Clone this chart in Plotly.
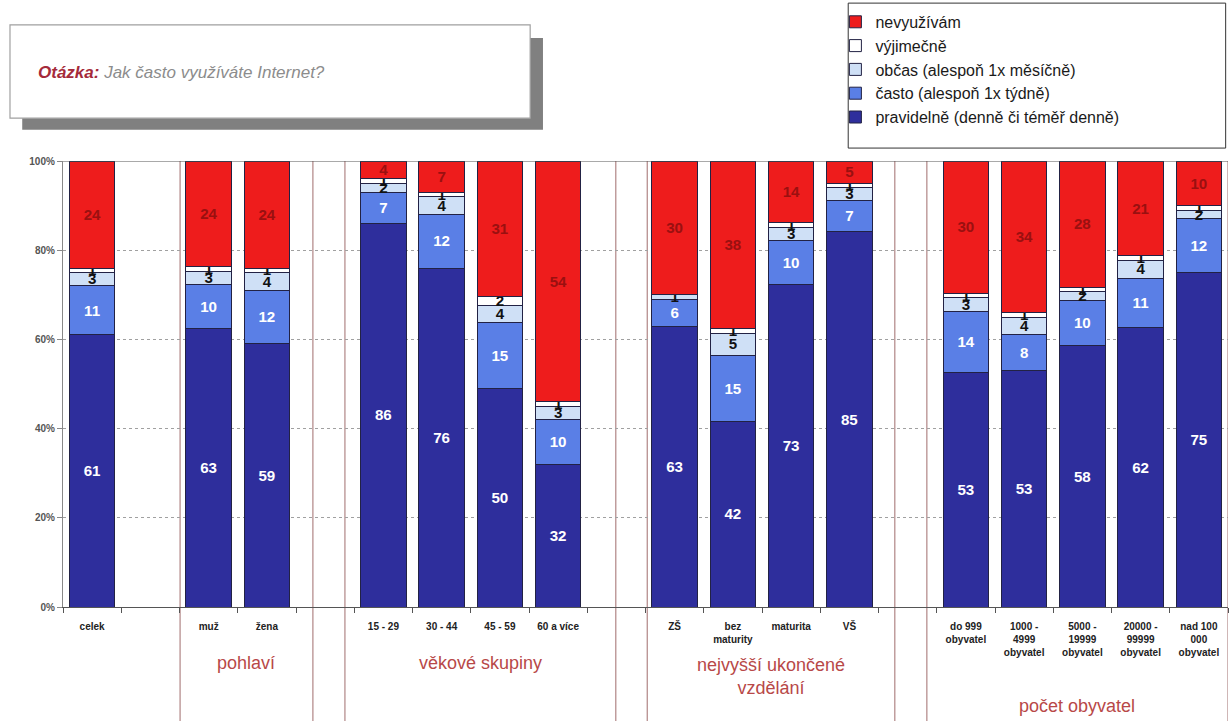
import plotly.graph_objects as go

# ---------------- data ----------------
groups = [
    ["celek"],
    ["muž", "žena"],
    ["15 - 29", "30 - 44", "45 - 59", "60 a více"],
    ["ZŠ", "bez<br>maturity", "maturita", "VŠ"],
    ["do 999<br>obyvatel", "1000 -<br>4999<br>obyvatel", "5000 -<br>19999<br>obyvatel",
     "20000 -<br>99999<br>obyvatel", "nad 100<br>000<br>obyvatel"],
]
group_titles = ["", "pohlaví", "věkové skupiny", "nejvyšší ukončené<br>vzdělání", "počet obyvatel"]

series_names = ["pravidelně (denně či téměř denně)", "často (alespoň 1x týdně)",
                "občas (alespoň 1x měsíčně)", "výjimečně", "nevyužívám"]
pravidelne = [61, 63, 59, 86, 76, 50, 32, 63, 42, 73, 85, 53, 53, 58, 62, 75]
casto      = [11, 10, 12, 7, 12, 15, 10, 6, 15, 10, 7, 14, 8, 10, 11, 12]
obcas      = [3, 3, 4, 2, 4, 4, 3, 1, 5, 3, 3, 3, 4, 2, 4, 2]
vyjimecne  = [1, 1, 1, 1, 1, 2, 1, 0, 1, 1, 1, 1, 1, 1, 1, 1]
nevyuzivam = [24, 24, 24, 4, 7, 31, 54, 30, 38, 14, 5, 30, 34, 28, 21, 10]
y_ticks = [0, 20, 40, 60, 80, 100]

# ---------------- styles ----------------
fills = ["#2e2e9c", "#5a7fe6", "#cfe0f6", "#ffffff", "#ee1c1c"]
text_colors = ["#ffffff", "#ffffff", "#111111", "#111111", "#9a1010"]
box_pad = [None, (0.49, 0.79), (0.66, 0.99), (0.47, 0.78), (0.67, 0.5)]
title_y = [None, -0.125, -0.125, -0.155, -0.222]

# positions: one blank slot between groups
xs, labels, group_pos = [], [], []
pos = 0
for g in groups:
    gp = []
    for c in g:
        xs.append(pos)
        labels.append(c)
        gp.append(pos)
        pos += 1
    group_pos.append(gp)
    pos += 1
x_max = pos - 1.5  # right edge of last slot

fig = go.Figure()
for name, vals, fc, tc in zip(series_names, [pravidelne, casto, obcas, vyjimecne, nevyuzivam],
                              fills, text_colors):
    fig.add_trace(go.Bar(
        x=xs, y=vals, name=name, width=0.78,
        marker=dict(color=fc, line=dict(color="#222244", width=1)),
        text=[str(v) for v in vals], textposition="inside", insidetextanchor="middle",
        textangle=0,
        textfont=dict(color=tc, size=16, family="Liberation Sans, Arial", weight="bold"),
        hoverinfo="skip",
    ))

shapes = []
# group boxes
for gp, pad in zip(group_pos, box_pad):
    if pad is None:
        continue
    x0 = gp[0] - pad[0]
    x1 = min(gp[-1] + pad[1], x_max)
    for xv in (x0, x1):
        shapes.append(dict(type="line", xref="x", yref="paper", x0=xv, x1=xv, y0=1, y1=-0.26,
                           line=dict(color="#b08585", width=1.2), layer="below"))
# top line at 100 %
shapes.append(dict(type="line", xref="x", yref="y", x0=-0.5, x1=x_max, y0=100, y1=100,
                   line=dict(color="#555555", width=1.2)))
# question box with shadow
shapes.append(dict(type="rect", xref="paper", yref="paper", x0=-0.035, x1=0.412, y0=1.070, y1=1.276,
                   fillcolor="#808080", line=dict(width=0)))
shapes.append(dict(type="rect", xref="paper", yref="paper", x0=-0.0455, x1=0.401, y0=1.096, y1=1.305,
                   fillcolor="#ffffff", line=dict(color="#a0a0a0", width=1.2)))
# legend frame
shapes.append(dict(type="rect", xref="paper", yref="paper", x0=0.674, x1=0.998, y0=1.029, y1=1.354,
                   fillcolor="#ffffff", line=dict(color="#333333", width=1)))

annotations = [dict(
    xref="paper", yref="paper", x=-0.023, y=1.198, xanchor="left", yanchor="middle", showarrow=False,
    text="<span style='color:#a52a3a'><b><i>Otázka:</i></b></span>"
         "<span style='color:#8c8c8c'><i> Jak často využíváte Internet?</i></span>",
    font=dict(size=17, family="Liberation Sans, Arial"))]
for gp, title, ty, pad in zip(group_pos, group_titles, title_y, box_pad):
    if not title:
        continue
    cx = ((gp[0] - pad[0]) + min(gp[-1] + pad[1], x_max)) / 2
    annotations.append(dict(xref="x", yref="paper", x=cx, y=ty, text=title, showarrow=False,
                            xanchor="center", yanchor="middle",
                            font=dict(size=18, color="#b84848", family="Liberation Sans, Arial")))

fig.update_layout(
    width=1231, height=721,
    margin=dict(l=63, r=3, t=161, b=114),
    paper_bgcolor="white", plot_bgcolor="white",
    barmode="stack", barnorm="percent",
    uniformtext=dict(minsize=15, mode="show"),
    shapes=shapes, annotations=annotations,
    showlegend=True,
    legend=dict(x=0.663, y=1.35, xanchor="left", yanchor="top", traceorder="reversed",
                bgcolor="rgba(0,0,0,0)", borderwidth=0,
                font=dict(size=16, color="#1a1a1a", family="Liberation Sans, Arial"),
                itemwidth=30),
    xaxis=dict(range=[-0.5, x_max], tickmode="array", tickvals=xs, ticktext=labels,
               showline=True, linecolor="#555555", linewidth=1.2, ticks="",
               showgrid=False, zeroline=False, ticklabelstandoff=10,
               tickfont=dict(size=10, color="#222222", family="Liberation Sans, Arial", weight="bold"),
               minor=dict(tickvals=[i + 0.5 for i in range(-1, int(x_max + 0.5))], ticks="outside",
                          ticklen=5, tickcolor="#555555", showgrid=False)),
    yaxis=dict(range=[0, 100], tickmode="array", tickvals=y_ticks,
               ticktext=[f"{v}%" for v in y_ticks],
               showline=True, linecolor="#888888", linewidth=1.2, ticks="outside", ticklen=5,
               tickcolor="#888888", showgrid=True, gridcolor="#a0a0a0", griddash="dot",
               zeroline=False,
               tickfont=dict(size=10, color="#555555", family="Liberation Sans, Arial", weight="bold")),
)

fig.write_html("out.html")
